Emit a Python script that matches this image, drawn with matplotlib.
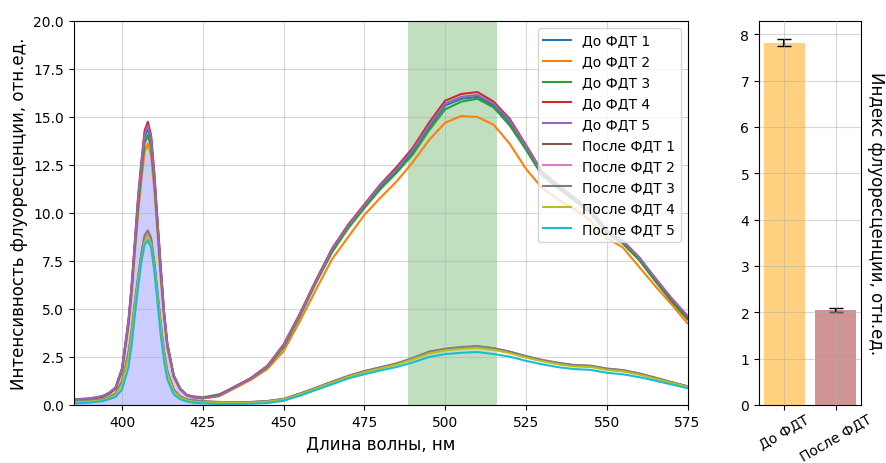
import numpy as np
import matplotlib
matplotlib.use('Agg')
import matplotlib.pyplot as plt

# wavelength grid, nm
wl = [385, 390, 394, 396, 398, 400, 402, 403, 404, 405, 406, 407, 408, 409, 410,
      411, 412, 413, 414, 416, 418, 420, 422, 425,
      430, 435, 440, 445, 450, 455, 460, 465, 470, 475, 480, 485, 490, 495, 500,
      505, 510, 515, 520, 525, 530, 535, 540, 545, 550, 555, 560, 565, 570, 575]

# before PDT
do1 = [0.27, 0.32, 0.44, 0.6, 0.88, 1.85, 4.3, 6.15, 8.4, 10.6, 12.4, 13.95, 14.4, 13.75, 11.85,
       9.4, 7.0, 4.8, 3.15, 1.5, 0.83, 0.5, 0.4, 0.35,
       0.5, 0.97, 1.4, 2.0, 3.05, 4.65, 6.4, 8.05, 9.3, 10.35, 11.35, 12.2, 13.2, 14.45, 15.6,
       15.95, 16.05, 15.6, 14.7, 13.35, 12.0, 11.3, 10.7, 10.05, 9.0, 8.45, 7.6, 6.5, 5.45, 4.5]
do2 = [0.25, 0.3, 0.42, 0.57, 0.84, 1.75, 4.05, 5.8, 7.95, 10.0, 11.7, 13.2, 13.6, 13.0, 11.2,
       8.9, 6.6, 4.5, 3.0, 1.45, 0.8, 0.5, 0.4, 0.34,
       0.45, 0.88, 1.32, 1.88, 2.8, 4.35, 6.0, 7.6, 8.75, 9.9, 10.8, 11.65, 12.65, 13.8, 14.7,
       15.05, 15.0, 14.6, 13.6, 12.3, 11.3, 10.7, 10.2, 9.6, 8.7, 8.2, 7.2, 6.2, 5.25, 4.25]
do3 = [0.26, 0.31, 0.43, 0.58, 0.86, 1.8, 4.2, 6.0, 8.2, 10.35, 12.1, 13.65, 14.05, 13.45, 11.6,
       9.2, 6.85, 4.7, 3.1, 1.5, 0.85, 0.53, 0.45, 0.4,
       0.55, 0.95, 1.38, 1.98, 3.0, 4.6, 6.35, 7.95, 9.2, 10.25, 11.25, 12.1, 13.05, 14.3, 15.4,
       15.8, 15.95, 15.5, 14.55, 13.3, 11.95, 11.3, 10.65, 10.0, 8.95, 8.4, 7.55, 6.45, 5.4, 4.45]
do4 = [0.28, 0.33, 0.45, 0.62, 0.9, 1.9, 4.4, 6.3, 8.6, 10.9, 12.7, 14.3, 14.75, 14.05, 12.1,
       9.6, 7.2, 4.9, 3.25, 1.55, 0.85, 0.52, 0.42, 0.36,
       0.5, 0.95, 1.42, 2.05, 3.15, 4.75, 6.5, 8.15, 9.4, 10.45, 11.5, 12.4, 13.4, 14.7, 15.85,
       16.2, 16.3, 15.8, 14.9, 13.55, 12.15, 11.45, 10.8, 10.15, 9.1, 8.55, 7.7, 6.6, 5.55, 4.6]
do5 = [0.3, 0.35, 0.47, 0.64, 0.92, 1.9, 4.35, 6.2, 8.5, 10.8, 12.55, 14.1, 14.55, 13.9, 12.0,
       9.5, 7.1, 4.85, 3.2, 1.55, 0.85, 0.52, 0.42, 0.35,
       0.48, 0.93, 1.4, 2.03, 3.1, 4.7, 6.45, 8.1, 9.35, 10.4, 11.45, 12.3, 13.3, 14.55, 15.7,
       16.05, 16.15, 15.7, 14.8, 13.5, 12.1, 11.4, 10.8, 10.15, 9.1, 8.55, 7.7, 6.62, 5.58, 4.65]

# after PDT
po1 = [0.18, 0.22, 0.28, 0.38, 0.57, 1.2, 2.65, 3.85, 5.3, 6.62, 7.82, 8.75, 9.0, 8.6, 7.35,
       5.78, 4.15, 2.75, 1.75, 0.78, 0.43, 0.28, 0.22, 0.18,
       0.15, 0.13, 0.15, 0.2, 0.31, 0.58, 0.88, 1.2, 1.5, 1.75, 1.95, 2.15, 2.43, 2.75, 2.9,
       3.0, 3.04, 2.95, 2.77, 2.53, 2.33, 2.18, 2.06, 2.03, 1.88, 1.8, 1.63, 1.41, 1.18, 0.97]
po2 = [0.17, 0.21, 0.27, 0.37, 0.56, 1.18, 2.62, 3.82, 5.25, 6.58, 7.77, 8.7, 8.95, 8.55, 7.32,
       5.75, 4.12, 2.72, 1.73, 0.76, 0.42, 0.27, 0.21, 0.17,
       0.14, 0.12, 0.14, 0.19, 0.3, 0.57, 0.87, 1.19, 1.49, 1.74, 1.94, 2.14, 2.42, 2.74, 2.89,
       2.98, 3.02, 2.93, 2.75, 2.51, 2.31, 2.16, 2.04, 2.01, 1.86, 1.78, 1.61, 1.4, 1.17, 0.96]
po3 = [0.2, 0.24, 0.3, 0.4, 0.6, 1.25, 2.7, 3.9, 5.35, 6.7, 7.9, 8.85, 9.1, 8.7, 7.45,
       5.85, 4.2, 2.8, 1.8, 0.8, 0.45, 0.3, 0.25, 0.2,
       0.16, 0.14, 0.16, 0.21, 0.32, 0.6, 0.9, 1.22, 1.52, 1.77, 1.97, 2.17, 2.45, 2.78, 2.93,
       3.02, 3.07, 2.96, 2.78, 2.55, 2.35, 2.2, 2.08, 2.05, 1.9, 1.82, 1.65, 1.43, 1.2, 0.98]
po4 = [0.14, 0.18, 0.25, 0.35, 0.52, 1.05, 2.45, 3.65, 5.1, 6.45, 7.6, 8.5, 8.75, 8.38, 7.2,
       5.6, 4.0, 2.6, 1.65, 0.7, 0.38, 0.24, 0.18, 0.14,
       0.12, 0.1, 0.12, 0.17, 0.28, 0.55, 0.85, 1.16, 1.46, 1.7, 1.9, 2.1, 2.38, 2.68, 2.84,
       2.93, 2.97, 2.87, 2.7, 2.47, 2.28, 2.12, 2.01, 1.98, 1.83, 1.75, 1.58, 1.37, 1.15, 0.95]
po5 = [0.08, 0.12, 0.2, 0.3, 0.42, 0.8, 1.95, 3.15, 4.7, 6.15, 7.45, 8.35, 8.57, 8.2, 7.0,
       5.3, 3.65, 2.3, 1.35, 0.55, 0.3, 0.18, 0.12, 0.08,
       0.05, 0.05, 0.06, 0.1, 0.22, 0.48, 0.78, 1.08, 1.38, 1.6, 1.8, 1.98, 2.22, 2.5, 2.65,
       2.72, 2.76, 2.65, 2.52, 2.3, 2.12, 1.97, 1.87, 1.83, 1.68, 1.6, 1.45, 1.27, 1.07, 0.88]

spectra = [do1, do2, do3, do4, do5, po1, po2, po3, po4, po5]
labels = ['До ФДТ 1', 'До ФДТ 2', 'До ФДТ 3', 'До ФДТ 4', 'До ФДТ 5',
          'После ФДТ 1', 'После ФДТ 2', 'После ФДТ 3', 'После ФДТ 4', 'После ФДТ 5']

# fluorescence index
groups = ['До ФДТ', 'После ФДТ']
index_mean = [7.82, 2.05]
index_err = [0.07, 0.05]

fig = plt.figure(figsize=(8.87, 4.64), dpi=100)
ax = fig.add_axes([0.0829, 0.125, 0.6922, 0.8276])
ax2 = fig.add_axes([0.8557, 0.125, 0.115, 0.8276])

#spectra
x = np.array(wl)
ax.axvspan(488.5, 516, color='green', alpha=0.25, lw=0)
mask = x <= 425
ax.fill_between(x[mask], np.array(do4)[mask], color='blue', alpha=0.2, lw=0)
for y, lab in zip(spectra, labels):
    ax.plot(x, y, label=lab)

ax.set_xlim(385, 575)
ax.set_ylim(0, 20)
ax.set_xticks(np.arange(400, 576, 25))
ax.grid(alpha=0.5)
ax.tick_params(labelsize=10)
ax.set_xlabel('Длина волны, нм', fontsize=12)
ax.set_ylabel('Интенсивность флуоресценции, отн.ед.', fontsize=12)
ax.legend(loc='upper right', fontsize=10)

#bars
ax2.bar([0, 1], index_mean, yerr=index_err, color=['orange', 'brown'], alpha=0.5,
        capsize=5, error_kw={'ecolor': 'black'})
ax2.set_xticks([0, 1])
ax2.set_xticklabels(groups, rotation=30, fontsize=10)
ax2.tick_params(labelsize=10)
ax2.tick_params(axis='x', pad=1)
ax2.grid(alpha=0.5)
ax2.set_axisbelow(False)
ax2.yaxis.set_label_position('right')
ax2.set_ylabel('Индекс флуоресценции, отн.ед.', fontsize=12, rotation=270, labelpad=17)

plt.savefig('out.png', dpi=100)
